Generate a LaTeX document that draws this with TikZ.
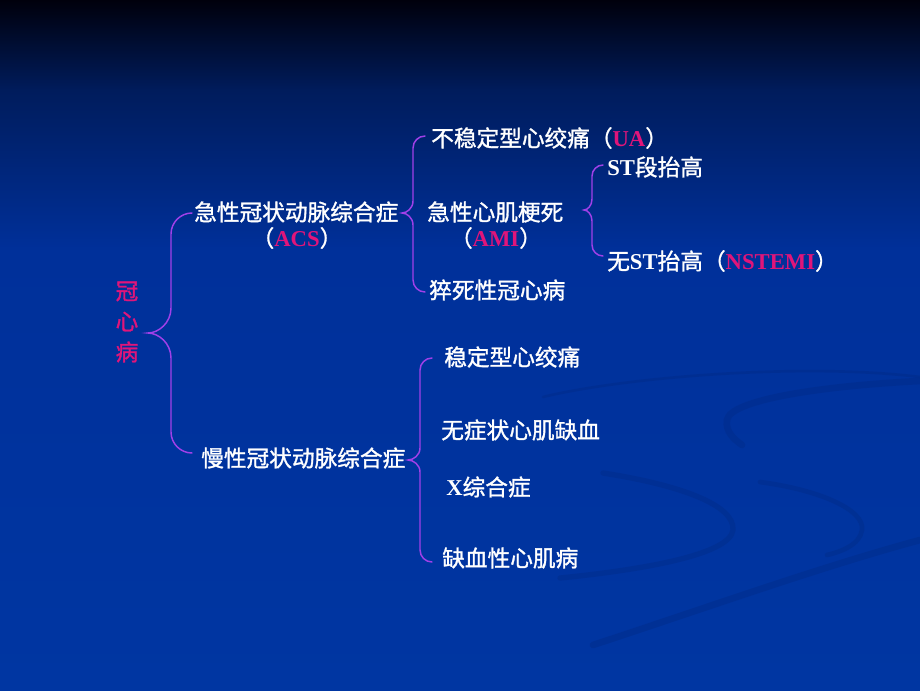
\documentclass[tikz,border=0pt]{standalone}
\usepackage{fontspec}
\setmainfont{Noto Sans CJK SC}[FakeBold=1.3]
\newfontfamily\latfont{Liberation Serif}
\definecolor{pinkc}{HTML}{E0157A}
\definecolor{bracec}{HTML}{A040E8}
\definecolor{bgA}{HTML}{00000C}
\definecolor{bgB}{HTML}{001C5C}
\definecolor{bgC}{HTML}{00309A}
\definecolor{bgD}{HTML}{0036A2}
\definecolor{swc}{HTML}{002A85}
\newcommand{\lt}[1]{{\latfont\bfseries #1}}
\newcommand{\pk}[1]{\textcolor{pinkc}{\lt{#1}}}
% curly brace: #1 xtip, #2 ytip, #3 xvert, #4 ytop, #5 ybot, #6 xend, #7 tip half height
\newcommand{\cbrace}[7]{%
  \draw[bracestyle] (#6,#4) .. controls ({#3+0.45*(#6-#3)},#4) and (#3,{#4+0.45*(#6-#3)}) .. (#3,{#4+(#6-#3)})
    -- (#3,{#2-#7}) .. controls (#3,{#2-0.4*#7}) and ({#1+0.45*(#3-#1)},#2) .. (#1,#2)
    .. controls ({#1+0.45*(#3-#1)},#2) and (#3,{#2+0.4*#7}) .. (#3,{#2+#7})
    -- (#3,{#5-(#6-#3)}) .. controls (#3,{#5-0.45*(#6-#3)}) and ({#3+0.45*(#6-#3)},#5) .. (#6,#5);}
\tikzset{
  bracestyle/.style={draw=bracec, line width=1.1pt, line cap=round},
  txt/.style={inner sep=0pt, anchor=west, text=white, font=\fontsize{17}{20}\selectfont},
  swoosh/.style={draw=swc, opacity=0.4, line cap=round},
}
\begin{document}
\begin{tikzpicture}[x=0.75pt, y=-0.75pt]
\useasboundingbox (0,0) rectangle (920,690);
% background
\shade[top color=bgA, bottom color=bgB] (0,0) rectangle (920,90.5);
\shade[top color=bgB, bottom color=bgC] (0,90) rectangle (920,250.5);
\shade[top color=bgC, bottom color=bgD] (0,250) rectangle (920,690);
% decorative swooshes
\draw[swoosh, line width=2pt] (543,397) .. controls (620,378) and (800,362) .. (920,377);
\draw[swoosh, line width=5pt] (920,381) .. controls (820,386) and (730,400) .. (727,420) .. controls (725,432) and (735,440) .. (742,445);
\draw[swoosh, line width=4pt] (603,473) .. controls (680,485) and (735,505) .. (733,530) .. controls (730,555) and (640,570) .. (560,578);
\draw[swoosh, line width=3.5pt] (760,482) .. controls (820,490) and (865,510) .. (862,530) .. controls (860,545) and (840,552) .. (827,555);
\draw[swoosh, line width=5pt] (920,540) .. controls (820,567) and (700,610) .. (593,645);
% root
\node[inner sep=0pt, align=center, text=pinkc, font=\fontsize{17}{22.9}\selectfont] (root) at (127,322) {冠\\心\\病};
% level 1
\node[txt] (acs) at (194,212) {急性冠状动脉综合症};
\node[txt, anchor=center] (acsab) at (297,238) {（\pk{ACS}）};
\node[txt] (ccs) at (201,458) {慢性冠状动脉综合症};
% ACS children
\node[txt] (ua) at (431,138) {不稳定型心绞痛（\pk{UA}）};
\node[txt] (ami) at (427,212) {急性心肌梗死};
\node[txt, anchor=center] (amiab) at (496,238) {（\pk{AMI}）};
\node[txt] (scd) at (429,290) {猝死性冠心病};
% AMI children
\node[txt] (stemi) at (607,167) {\lt{ST}段抬高};
\node[txt] (nstemi) at (607,261) {无\lt{ST}抬高（\pk{NSTEMI}）};
% CCS children
\node[txt] (sa) at (444,357) {稳定型心绞痛};
\node[txt] (smi) at (441,430) {无症状心肌缺血};
\node[txt] (xs) at (446,487) {\lt{X}综合症};
\node[txt] (icm) at (442,558) {缺血性心肌病};
% braces
\cbrace{148}{333}{171}{213}{453}{192}{25}
\cbrace{402}{213}{413}{136}{292}{425}{12}
\cbrace{584}{210}{592}{165}{256}{603}{11}
\cbrace{408}{460}{420}{358}{562}{432}{12}
\end{tikzpicture}
\end{document}
